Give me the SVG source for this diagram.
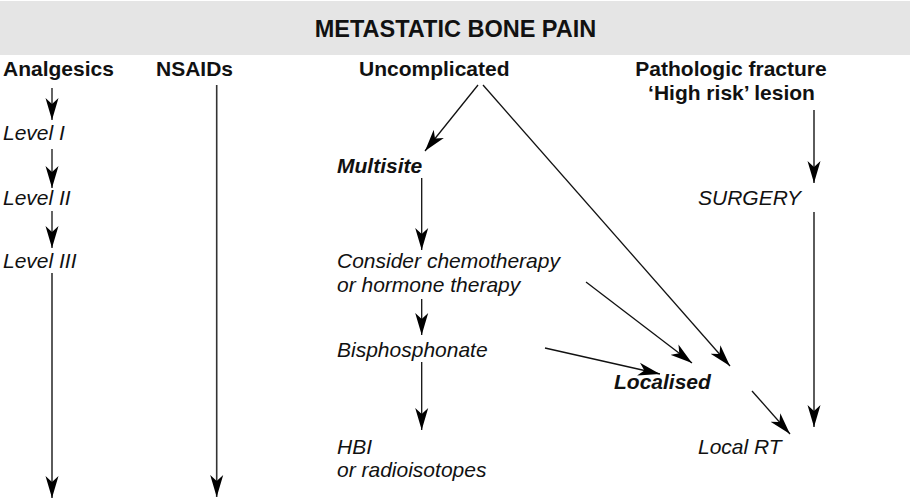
<svg xmlns="http://www.w3.org/2000/svg" width="910" height="501" viewBox="0 0 910 501">
<style>
text{font-family:"Liberation Sans",Arial,sans-serif;fill:#111;font-size:21px}
.b{font-weight:bold}
.i{font-style:italic}
.bi{font-weight:bold;font-style:italic}
.t{font-size:23.5px}
.ln{stroke:#111;stroke-width:1.3;fill:none}
.lv{stroke:#333;stroke-width:1.6;fill:none}
</style>
<defs>
<marker id="ah" markerUnits="userSpaceOnUse" markerWidth="22" markerHeight="14" viewBox="0 -7 22 14" refX="22" refY="0" orient="auto">
<path d="M0,-6.5 L22,0 L0,6.5 L6,0 Z" fill="#000"/>
</marker>
</defs>
<g id="header">
<rect x="0" y="1" width="910" height="54" fill="#e5e5e5"/>
<text class="b t" x="455.5" y="37" text-anchor="middle">METASTATIC BONE PAIN</text>
</g>
<g id="analgesics"><text class="b" x="3" y="76">Analgesics</text></g>
<g id="nsaids"><text class="b" x="156" y="76">NSAIDs</text></g>
<g id="uncomplicated"><text class="b" x="359" y="76">Uncomplicated</text></g>
<g id="pathologic"><text class="b" x="731" y="76" text-anchor="middle">Pathologic fracture</text><text class="b" x="731.5" y="100" text-anchor="middle">‘High risk’ lesion</text></g>
<g id="level1"><text class="i" x="3" y="140">Level I</text></g>
<g id="level2"><text class="i" x="3" y="205">Level II</text></g>
<g id="level3"><text class="i" x="3" y="268">Level III</text></g>
<g id="multisite"><text class="bi" x="337" y="173">Multisite</text></g>
<g id="chemo"><text class="i" x="337" y="268">Consider chemotherapy</text><text class="i" x="337" y="292">or hormone therapy</text></g>
<g id="bisphosphonate"><text class="i" x="337" y="357">Bisphosphonate</text></g>
<g id="hbi"><text class="i" x="337" y="454">HBI</text><text class="i" x="337" y="477">or radioisotopes</text></g>
<g id="surgery"><text class="i" x="698" y="205">SURGERY</text></g>
<g id="localised"><text class="bi" x="614" y="389">Localised</text></g>
<g id="localrt"><text class="i" x="698" y="454">Local RT</text></g>
<g id="connectors">
<line class="ln" x1="52" y1="88" x2="52" y2="120" marker-end="url(#ah)"/>
<line class="ln" x1="52" y1="149" x2="52" y2="188" marker-end="url(#ah)"/>
<line class="ln" x1="52" y1="211" x2="52" y2="248" marker-end="url(#ah)"/>
<line class="lv" x1="52" y1="273" x2="52" y2="498" marker-end="url(#ah)"/>
<line class="lv" x1="216.7" y1="85" x2="216.7" y2="497" marker-end="url(#ah)"/>
<line class="ln" x1="478" y1="85" x2="425" y2="151" marker-end="url(#ah)"/>
<line class="ln" x1="483" y1="85" x2="730" y2="366" marker-end="url(#ah)"/>
<line class="ln" x1="421.7" y1="178" x2="421.7" y2="250" marker-end="url(#ah)"/>
<line class="ln" x1="421.7" y1="299" x2="421.7" y2="335" marker-end="url(#ah)"/>
<line class="ln" x1="421.7" y1="362" x2="421.7" y2="430" marker-end="url(#ah)"/>
<line class="ln" x1="586" y1="282" x2="692" y2="363" marker-end="url(#ah)"/>
<line class="ln" x1="545" y1="348" x2="660" y2="374" marker-end="url(#ah)"/>
<line class="ln" x1="752" y1="391" x2="790" y2="434" marker-end="url(#ah)"/>
<line class="lv" x1="814" y1="110" x2="814" y2="183" marker-end="url(#ah)"/>
<line class="lv" x1="814" y1="212" x2="814" y2="427" marker-end="url(#ah)"/>
</g>
</svg>
